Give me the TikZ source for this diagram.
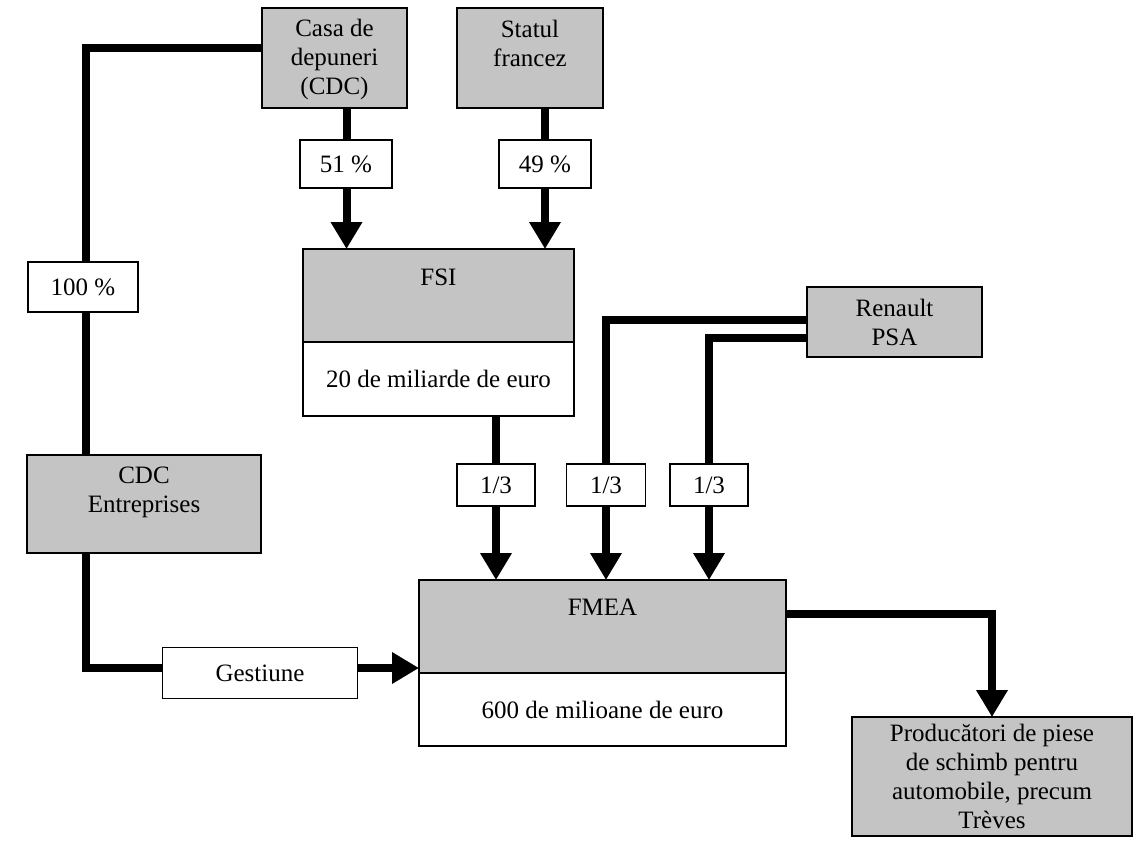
\documentclass[tikz,border=0pt]{standalone}
\usepackage{fontspec}
\setmainfont{Liberation Serif}
\usepackage{tikz}
\usetikzlibrary{arrows.meta,positioning,calc}
\definecolor{fmgray}{HTML}{C4C4C4}
\tikzset{
  gb/.style={draw=black,line width=1.6pt,fill=fmgray,inner sep=0pt,outer sep=0pt,
    align=center,font=\fontsize{25}{29}\selectfont,anchor=north west},
  wb/.style={gb,fill=white},
  tag/.style={gb,fill=white,anchor=center},
  link/.style={line width=8pt,line join=miter,color=black},
  flow/.style={link,-{Triangle[length=27pt,width=30pt]}},
}

\begin{document}
\begin{tikzpicture}[x=1pt,y=-1pt]
\useasboundingbox (0,0) rectangle (1146,855);
% boxes
\node[gb,minimum width=145pt,text height=86pt,text depth=14pt] (cdc) at (262,8) {Casa de\\depuneri\\(CDC)};
\node[gb,minimum width=146pt,text height=58pt,text depth=42pt] (statul) at (457,8) {Statul\\francez};
\node[gb,minimum width=271pt,text height=36pt,text depth=57pt] (fsi) at (303,249) {FSI};
\node[wb,minimum width=271pt,minimum height=74pt] (fsiamt) at (303,342) {20 de miliarde de euro};
\node[gb,minimum width=175pt,minimum height=70pt] (renault) at (807,287) {Renault\\PSA};
\node[gb,minimum width=234pt,text height=57pt,text depth=41pt] (cdcent) at (27,455) {CDC\\Entreprises};
\node[gb,minimum width=367pt,text height=35pt,text depth=58pt] (fmea) at (419,580) {FMEA};
\node[wb,minimum width=367pt,minimum height=73pt] (fmeaamt) at (419,673) {600 de milioane de euro};
\node[gb,minimum width=280pt,minimum height=119pt] (prod) at (852,717) {Producători de piese\\de schimb pentru\\automobile, precum\\Trèves};
% connectors
\coordinate (lx) at (86,48);
\coordinate (c1) at (496,485);
\coordinate (c2) at (606,485);
\coordinate (c3) at (709,485);
\draw[link] (cdc.west |- lx) -- (lx) -- (lx |- cdcent.north);
\draw[flow] (lx |- cdcent.south) |- ([yshift=5pt]fmea.south west);
\draw[flow] ($(cdc.south)+(12,0)$) -- ($(cdc.south |- fsi.north)+(12,0)$);
\draw[flow] ($(statul.south)+(15,0)$) -- ($(statul.south |- fsi.north)+(15,0)$);
\draw[flow] (fsiamt.south -| c1) -- (fmea.north -| c1);
\draw[flow] ([yshift=2pt]renault.west) -| (fmea.north -| c2);
\draw[flow] ([yshift=-16pt]renault.west) -| (fmea.north -| c3);
\draw[flow] ([yshift=13pt]fmea.east) -| (prod.north);
% labels on the connectors
\node[tag,minimum width=92pt,minimum height=48pt] (p51) at (346,164) {51 \%};
\node[tag,minimum width=92pt,minimum height=48pt] (p49) at (545,164) {49 \%};
\node[tag,minimum width=110pt,minimum height=50pt] (p100) at (83,287) {100 \%};
\node[tag,minimum width=78pt,minimum height=42pt] (t1) at (c1) {1/3};
\node[tag,minimum width=79pt,minimum height=42pt] (t2) at (c2) {1/3};
\node[tag,minimum width=78pt,minimum height=42pt] (t3) at (c3) {1/3};
\node[tag,minimum width=195pt,minimum height=51pt] (gest) at (260,673) {Gestiune};
\end{tikzpicture}
\end{document}
